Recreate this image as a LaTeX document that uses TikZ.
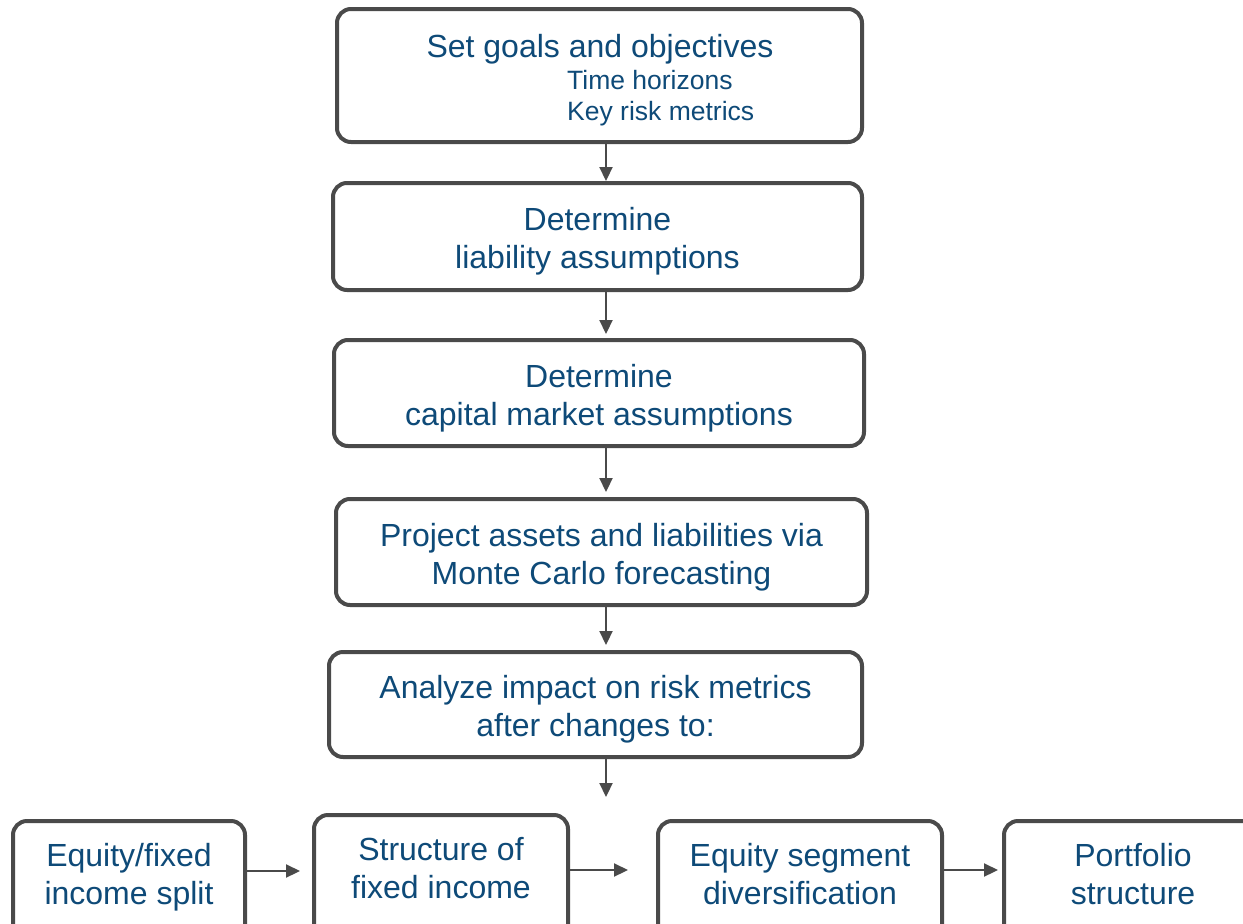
\documentclass[tikz,border=0pt]{standalone}
\usepackage{fontspec}
\setmainfont{Liberation Sans}
\usetikzlibrary{arrows.meta}
\definecolor{txt}{RGB}{14,74,120}
\definecolor{edge}{RGB}{74,74,74}
\tikzset{
  boxbase/.style={draw=edge, line width=4pt, rounded corners=14pt, fill=white, text=txt,
    font=\fontsize{32}{38}\selectfont, align=center, inner sep=0pt},
  box/.style={boxbase,
    execute at begin node={\rule{0pt}{73.5pt}},
    execute at end node={\rule[-9pt]{0pt}{0pt}}},
  bot/.style={boxbase, anchor=north, minimum height=150pt,
    execute at end node={\rule[-45pt]{0pt}{0pt}}},
  lbl/.style={text=txt, inner sep=0pt, font=\fontsize{32}{38}\selectfont},
  sub/.style={text=txt, inner sep=0pt, font=\fontsize{26.5}{30}\selectfont, anchor=base west},
  arr/.style={draw=edge, line width=2.2pt, -{Triangle[length=14pt,width=13pt]}},
}
\begin{document}
\begin{tikzpicture}[x=1pt,y=-1pt]
\useasboundingbox (0,0) rectangle (1243,924);
\clip (0,0) rectangle (1243,924);
\fill[white] (0,0) rectangle (1243,924);
% main column
\node[boxbase, minimum width=525pt, minimum height=133pt] (b1) at (599.5,75.5) {};
\node[lbl, anchor=base] (t1) at (600,57) {Set goals and objectives};
\node[sub] (t1a) at (567,89) {Time horizons};
\node[sub] (t1b) at (567,120.5) {Key risk metrics};
\node[box, minimum width=529pt, minimum height=107pt] (b2) at (597.5,236.5) {Determine\\liability assumptions};
\node[box, minimum width=530pt, minimum height=106pt] (b3) at (599,393) {Determine\\capital market assumptions};
\node[box, minimum width=531pt, minimum height=106pt] (b4) at (601.5,552) {Project assets and liabilities via\\Monte Carlo forecasting};
\node[box, minimum width=533pt, minimum height=105pt] (b5) at (595.5,704.5) {Analyze impact on risk metrics\\after changes to:};
% bottom row
\node[bot, minimum width=232pt] (c1) at (129,819) {Equity/fixed\\income split};
\node[bot, minimum width=254pt] (c2) at (441,813) {Structure of\\fixed income};
\node[bot, minimum width=284pt] (c3) at (800,819) {Equity segment\\diversification};
\node[bot, minimum width=258pt] (c4) at (1133,819) {Portfolio\\structure};
% arrows
\coordinate (ax) at (606,0);
\coordinate (e5) at (606,797);
\coordinate (e1) at (300,871);
\coordinate (e2) at (628,870);
\coordinate (e3) at (998,870);
\draw[arr] (b1.south -| ax) -- (b2.north -| ax);
\draw[arr, shorten >=4pt] (b2.south -| ax) -- (b3.north -| ax);
\draw[arr, shorten >=5pt] (b3.south -| ax) -- (b4.north -| ax);
\draw[arr, shorten >=5pt] (b4.south -| ax) -- (b5.north -| ax);
\draw[arr] (b5.south -| ax) -- (e5);
\draw[arr] (c1.east |- e1) -- (e1);
\draw[arr] (c2.east |- e2) -- (e2);
\draw[arr] (c3.east |- e3) -- (e3);
\end{tikzpicture}
\end{document}
